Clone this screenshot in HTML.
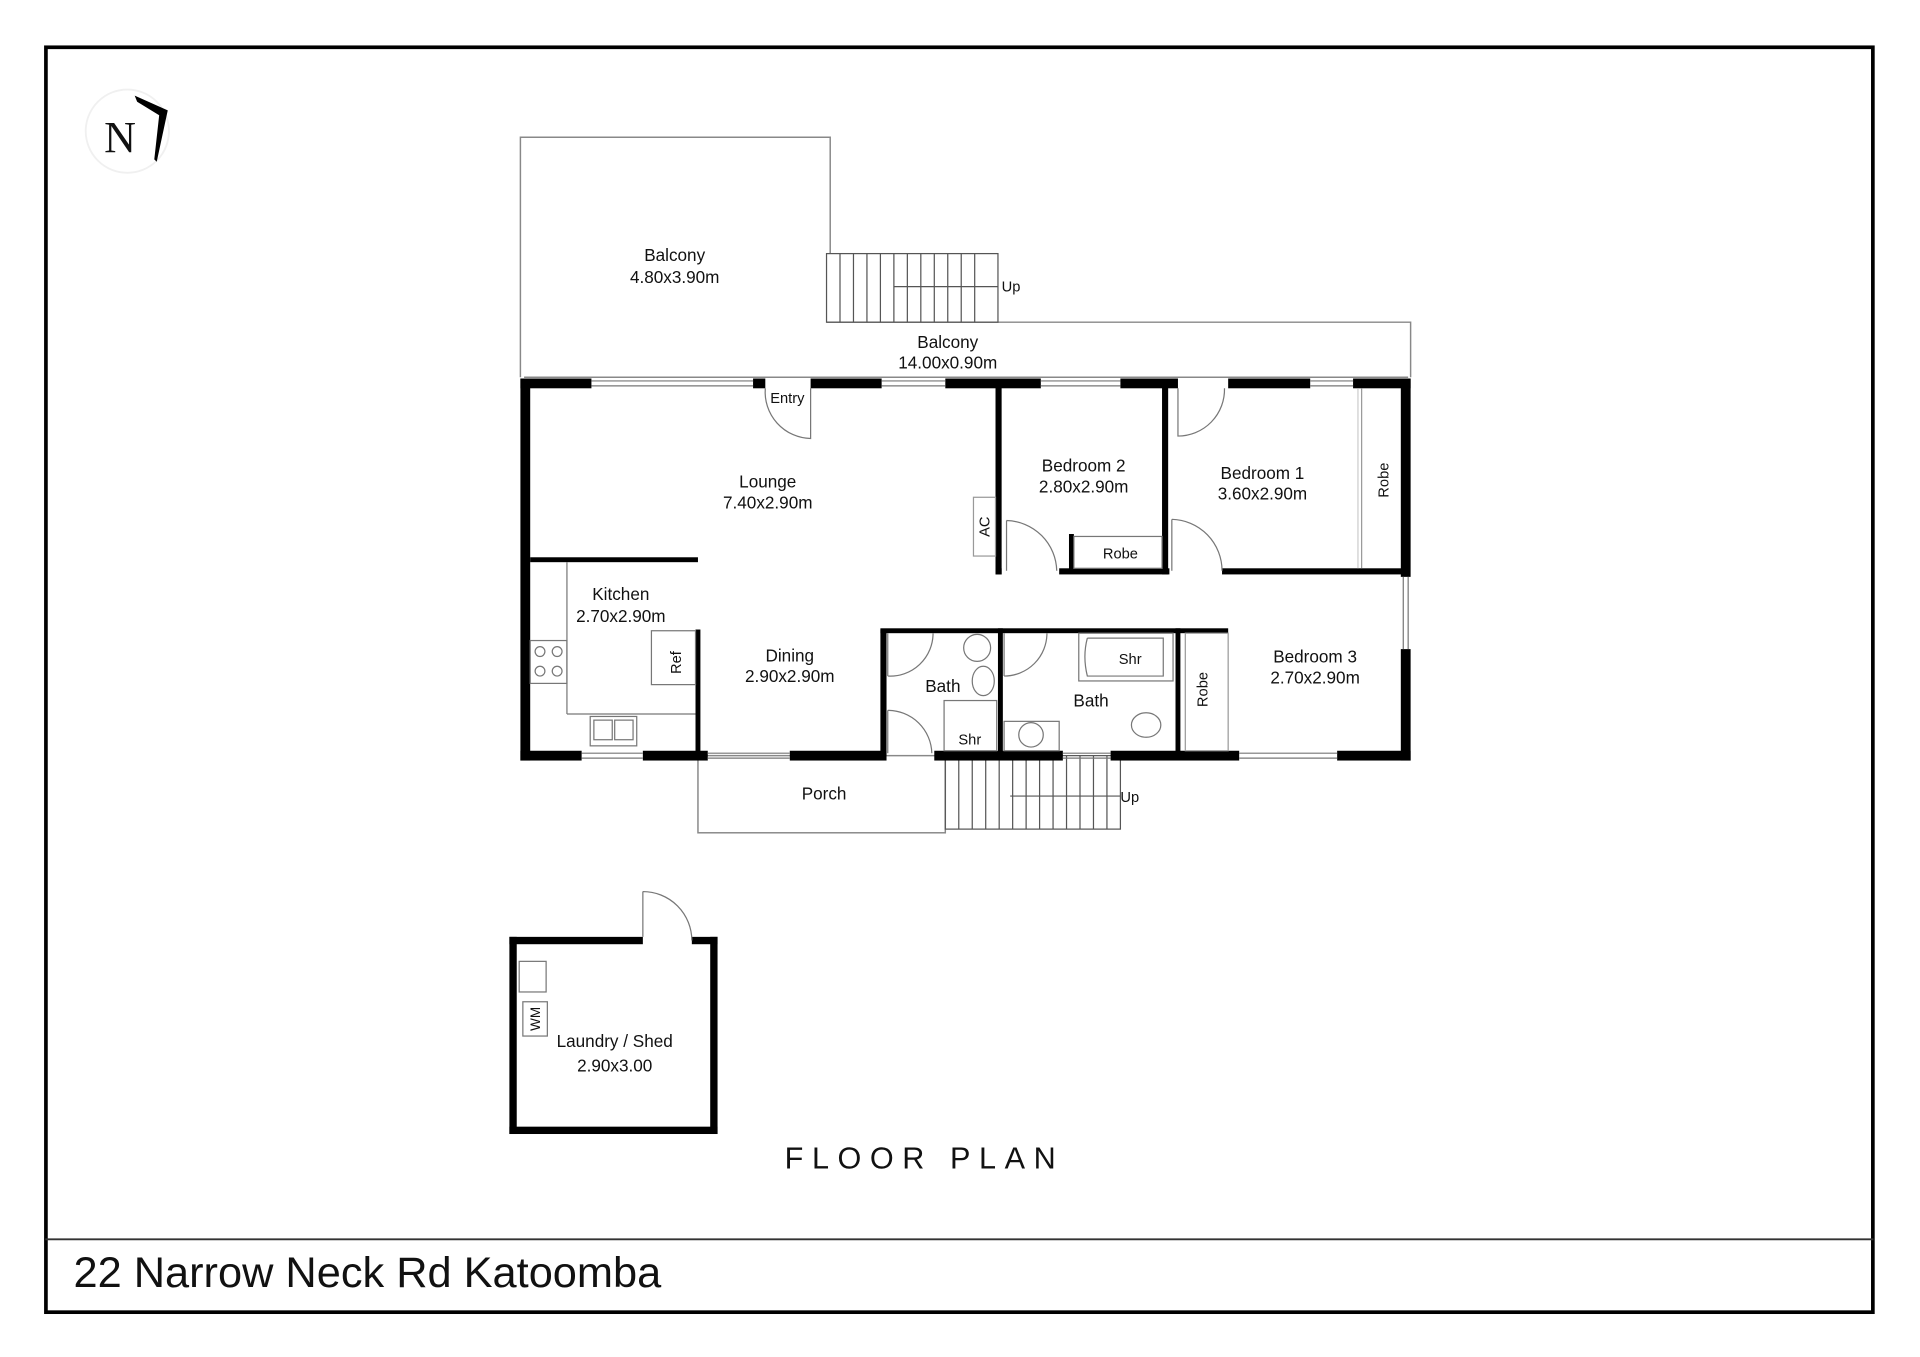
<!DOCTYPE html>
<html><head><meta charset="utf-8"><style>
html,body{margin:0;padding:0;background:#fff;}
svg{display:block;}
text{font-family:"Liberation Sans",sans-serif;fill:#111;}
</style></head><body>
<svg width="1920" height="1357" viewBox="0 0 1568 1108" xmlns="http://www.w3.org/2000/svg">
<rect x="0" y="0" width="1568" height="1108" fill="#fff"/>
<rect x="37.5" y="38.5" width="1492" height="1033" fill="none" stroke="#000" stroke-width="3"/>
<line x1="37" y1="1012" x2="1530" y2="1012" stroke="#333" stroke-width="1.5"/>
<text x="60" y="1051" font-size="35" textLength="480" lengthAdjust="spacingAndGlyphs">22 Narrow Neck Rd Katoomba</text>
<text x="755" y="954" font-size="25" text-anchor="middle" letter-spacing="7">FLOOR PLAN</text>
<circle cx="104" cy="107" r="34" fill="#fff" stroke="#f0f0f0" stroke-width="1.5"/>
<text x="98" y="124" font-size="36" text-anchor="middle" style="font-family:'Liberation Serif',serif">N</text>
<polygon points="110,78 137,90 128,132 126,130 130,94 112,83" fill="#000"/>

<g fill="none" stroke="#888" stroke-width="1.2">
<polyline points="425,308 425,112 678,112 678,207"/>
<polyline points="675,263 1152,263 1152,308"/>
<line x1="428" y1="308" x2="1150" y2="308"/>
<rect x="570" y="617" width="202" height="63"/>
</g>
<g stroke="#555" stroke-width="1" fill="none">
<rect x="675" y="207" width="140" height="56"/>
<line x1="686" y1="207" x2="686" y2="263"/><line x1="697" y1="207" x2="697" y2="263"/><line x1="708" y1="207" x2="708" y2="263"/><line x1="719" y1="207" x2="719" y2="263"/><line x1="730" y1="207" x2="730" y2="263"/><line x1="741" y1="207" x2="741" y2="263"/><line x1="752" y1="207" x2="752" y2="263"/><line x1="763" y1="207" x2="763" y2="263"/><line x1="774" y1="207" x2="774" y2="263"/><line x1="785" y1="207" x2="785" y2="263"/><line x1="796" y1="207" x2="796" y2="263"/>
<line x1="730" y1="234" x2="815" y2="234"/>
<rect x="772" y="617" width="143" height="60"/>
<line x1="783" y1="617" x2="783" y2="677"/><line x1="794" y1="617" x2="794" y2="677"/><line x1="805" y1="617" x2="805" y2="677"/><line x1="816" y1="617" x2="816" y2="677"/><line x1="827" y1="617" x2="827" y2="677"/><line x1="838" y1="617" x2="838" y2="677"/><line x1="849" y1="617" x2="849" y2="677"/><line x1="860" y1="617" x2="860" y2="677"/><line x1="871" y1="617" x2="871" y2="677"/><line x1="882" y1="617" x2="882" y2="677"/><line x1="893" y1="617" x2="893" y2="677"/><line x1="904" y1="617" x2="904" y2="677"/>
<line x1="825" y1="650" x2="915" y2="650"/>
</g>
<text x="818" y="238" font-size="12">Up</text>
<text x="915" y="655" font-size="12">Up</text>

<g fill="#000">
<rect x="425" y="309" width="58" height="8"/>
<rect x="615" y="309" width="10" height="8"/>
<rect x="662" y="309" width="58" height="8"/>
<rect x="772" y="309" width="78" height="8"/>
<rect x="915" y="309" width="47" height="8"/>
<rect x="1003" y="309" width="67" height="8"/>
<rect x="1105" y="309" width="47" height="8"/>
<rect x="425" y="309" width="8" height="312"/>
<rect x="1144" y="309" width="8" height="162"/>
<rect x="1144" y="530" width="8" height="91"/>
<rect x="425" y="613" width="50" height="8"/>
<rect x="525" y="613" width="53" height="8"/>
<rect x="645" y="613" width="79" height="8"/>
<rect x="763" y="613" width="105" height="8"/>
<rect x="907" y="613" width="105" height="8"/>
<rect x="1092" y="613" width="60" height="8"/>
<rect x="813" y="313" width="5" height="156"/>
<rect x="949" y="313" width="5" height="156"/>
<rect x="813" y="464" width="5" height="5"/>
<rect x="865" y="464" width="90" height="5"/>
<rect x="998" y="464" width="150" height="5"/>
<rect x="873" y="436" width="4" height="30"/>
<rect x="433" y="455" width="137" height="4"/>
<rect x="568" y="514" width="4" height="102"/>
<rect x="719" y="514" width="5" height="102"/>
<rect x="719" y="513" width="284" height="4"/>
<rect x="815" y="513" width="4" height="103"/>
<rect x="960" y="513" width="4" height="103"/>
<rect x="416" y="765" width="109" height="6"/>
<rect x="565" y="765" width="21" height="6"/>
<rect x="416" y="765" width="6" height="161"/>
<rect x="580" y="765" width="6" height="161"/>
<rect x="416" y="920" width="170" height="6"/>
</g>

<g stroke="#777" stroke-width="1" fill="none">
<line x1="483" y1="311" x2="615" y2="311"/><line x1="483" y1="315" x2="615" y2="315"/>
<line x1="720" y1="311" x2="772" y2="311"/><line x1="720" y1="315" x2="772" y2="315"/>
<line x1="850" y1="311" x2="915" y2="311"/><line x1="850" y1="315" x2="915" y2="315"/>
<line x1="1070" y1="311" x2="1105" y2="311"/><line x1="1070" y1="315" x2="1105" y2="315"/>
<line x1="475" y1="615" x2="525" y2="615"/><line x1="475" y1="619" x2="525" y2="619"/>
<line x1="578" y1="615" x2="645" y2="615"/><line x1="578" y1="619" x2="645" y2="619"/>
<line x1="868" y1="615" x2="907" y2="615"/><line x1="868" y1="619" x2="907" y2="619"/>
<line x1="1012" y1="615" x2="1092" y2="615"/><line x1="1012" y1="619" x2="1092" y2="619"/>
<line x1="1146" y1="471" x2="1146" y2="530"/><line x1="1150" y1="471" x2="1150" y2="530"/>
<path d="M662,317 L662,358 A38,38 0 0 1 625,317"/>
<path d="M962,317 L962,356 A38,38 0 0 0 1000,317"/>
<path d="M822,425 L822,466 M822,425 A42,42 0 0 1 863,466"/>
<path d="M957,424 L957,466 M957,424 A42,42 0 0 1 998,466"/>
<path d="M725,517 L725,552 M725,552 A35,35 0 0 0 762,517"/>
<path d="M725,580 L725,615 M725,580 A36,36 0 0 1 761,615"/>
<path d="M820,517 L820,552 M820,552 A35,35 0 0 0 855,517"/>
<path d="M525,765 L525,728 M525,728 A40,40 0 0 1 565,768"/>
<rect x="795" y="406" width="18" height="48" stroke="#999"/>
<rect x="877" y="438" width="72" height="26"/>
<line x1="1112" y1="317" x2="1112" y2="464" stroke="#999"/>
<line x1="1109" y1="317" x2="1109" y2="464" stroke="#ccc"/>
<rect x="968" y="517" width="35" height="96" stroke="#999"/>
<line x1="463" y1="459" x2="463" y2="583"/>
<line x1="463" y1="583" x2="568" y2="583"/>
<rect x="433" y="523" width="30" height="35"/>
<circle cx="441" cy="532" r="4"/><circle cx="455" cy="532" r="4"/><circle cx="441" cy="548" r="4"/><circle cx="455" cy="548" r="4"/>
<rect x="532" y="515" width="36" height="44"/>
<rect x="482" y="585" width="38" height="24"/><rect x="485" y="588" width="15" height="16"/><rect x="502" y="588" width="15" height="16"/>
<ellipse cx="798" cy="529" rx="11" ry="11"/>
<ellipse cx="803" cy="556" rx="9" ry="12"/>
<rect x="771" y="572" width="43" height="41"/>
<rect x="881" y="517" width="77" height="39"/>
<path d="M888,521 L950,521 L950,552 L888,552 Q884,536 888,521"/>
<ellipse cx="936" cy="592" rx="12" ry="10"/>
<rect x="820" y="589" width="45" height="24"/>
<circle cx="842" cy="600" r="10"/>
<rect x="424" y="785" width="22" height="25"/>
<rect x="427" y="818" width="20" height="28"/>
</g>

<g font-size="14" text-anchor="middle">
<text x="551" y="213">Balcony</text><text x="551" y="231">4.80x3.90m</text>
<text x="774" y="284">Balcony</text><text x="774" y="301">14.00x0.90m</text>
<text x="643" y="329" font-size="12">Entry</text>
<text x="627" y="398">Lounge</text><text x="627" y="415">7.40x2.90m</text>
<text x="885" y="385">Bedroom 2</text><text x="885" y="402">2.80x2.90m</text>
<text x="1031" y="391">Bedroom 1</text><text x="1031" y="408">3.60x2.90m</text>
<text x="915" y="456" font-size="12">Robe</text>
<text x="507" y="490">Kitchen</text><text x="507" y="508">2.70x2.90m</text>
<text x="645" y="540">Dining</text><text x="645" y="557">2.90x2.90m</text>
<text x="770" y="565">Bath</text>
<text x="891" y="577">Bath</text>
<text x="923" y="542" font-size="12">Shr</text>
<text x="792" y="608" font-size="12">Shr</text>
<text x="1074" y="541">Bedroom 3</text><text x="1074" y="558">2.70x2.90m</text>
<text x="673" y="653">Porch</text>
<text x="502" y="855">Laundry / Shed</text><text x="502" y="875">2.90x3.00</text>
<text transform="translate(808,430) rotate(-90)" font-size="12">AC</text>
<text transform="translate(1134,392) rotate(-90)" font-size="12">Robe</text>
<text transform="translate(986,563) rotate(-90)" font-size="12">Robe</text>
<text transform="translate(556,541) rotate(-90)" font-size="12">Ref</text>
<text transform="translate(441,832) rotate(-90)" font-size="11">WM</text>
</g>
</svg>
</body></html>
